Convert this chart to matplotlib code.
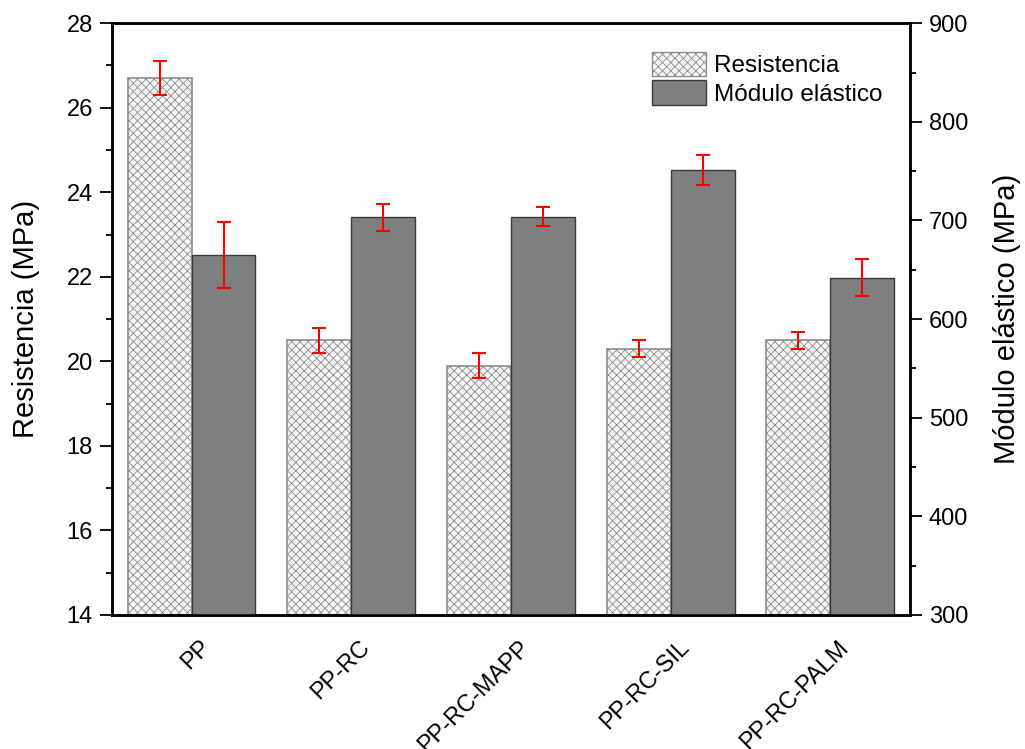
import numpy as np
import matplotlib.pyplot as plt
from matplotlib.patches import Patch
from matplotlib.transforms import ScaledTranslation

plt.rcParams['font.family'] = ['Liberation Sans', 'DejaVu Sans']
plt.rcParams['hatch.color'] = '#c4c4c4'
plt.rcParams['hatch.linewidth'] = 0.6

# Data
samples = ['PP', 'PP-RC', 'PP-RC-MAPP', 'PP-RC-SIL', 'PP-RC-PALM']
resistencia = [26.7, 20.5, 19.9, 20.3, 20.5]
resistencia_err = [0.4, 0.3, 0.3, 0.2, 0.2]
modulo = [665, 703, 704, 751, 642]
modulo_err = [33, 14, 10, 15, 19]

x = np.arange(len(samples))
w = 0.4

fig, ax = plt.subplots(figsize=(10.25, 7.49), dpi=100)
fig.subplots_adjust(left=0.109, right=0.888, top=0.969, bottom=0.179)
ax2 = ax.twinx()

ax.bar(x - w / 2, resistencia, w, color='#f6f6f6', edgecolor='#8c8c8c',
       hatch='xxxx', linewidth=1.2, zorder=2)
ax.errorbar(x - w / 2, resistencia, yerr=resistencia_err, fmt='none', ecolor='red',
            elinewidth=1.5, capsize=5, capthick=1.5, zorder=3)

ax2.bar(x + w / 2, modulo, w, color='#7f7f7f', edgecolor='#3a3a3a', linewidth=1.0, zorder=2)
ax2.errorbar(x + w / 2, modulo, yerr=modulo_err, fmt='none', ecolor='red',
             elinewidth=1.5, capsize=5, capthick=1.5, zorder=3)

ax.set_xlim(-0.5, 4.5)
ax.set_ylim(14, 28)
ax2.set_ylim(300, 900)
ax.set_yticks(np.arange(14, 29, 2))
ax.set_yticks(np.arange(15, 28, 2), minor=True)
ax2.set_yticks(np.arange(300, 901, 100))
ax2.set_yticks(np.arange(350, 900, 100), minor=True)

ax.set_xticks(x)
ax.set_xticklabels(samples, rotation=45, ha='right', va='center',
                   rotation_mode='anchor', fontsize=17)
ax.tick_params(axis='x', length=0, pad=21)
offset = ScaledTranslation(11 / 72, 0, fig.dpi_scale_trans)
for lbl in ax.get_xticklabels():
    lbl.set_transform(lbl.get_transform() + offset)

for a in (ax, ax2):
    a.tick_params(axis='y', which='major', direction='out', length=8.5, width=1.3,
                  labelsize=17, pad=5)
    a.tick_params(axis='y', which='minor', direction='out', length=4.5, width=1.3)
    for s in a.spines.values():
        s.set_linewidth(1.8)

ax.set_ylabel('Resistencia (MPa)', fontsize=21, labelpad=19)
ax2.set_ylabel('Módulo elástico (MPa)', fontsize=21, labelpad=18)

handles = [Patch(facecolor='#f6f6f6', edgecolor='#8c8c8c', hatch='xxxx', label='Resistencia'),
           Patch(facecolor='#7f7f7f', edgecolor='#3a3a3a', label='Módulo elástico')]
ax2.legend(handles=handles, loc='upper right', bbox_to_anchor=(0.99, 0.985), frameon=False,
           fontsize=17.5, handlelength=2.2, handleheight=1.15, handletextpad=0.35,
           labelspacing=0.15, borderpad=0.3)

fig.savefig('out.png', dpi=100)
